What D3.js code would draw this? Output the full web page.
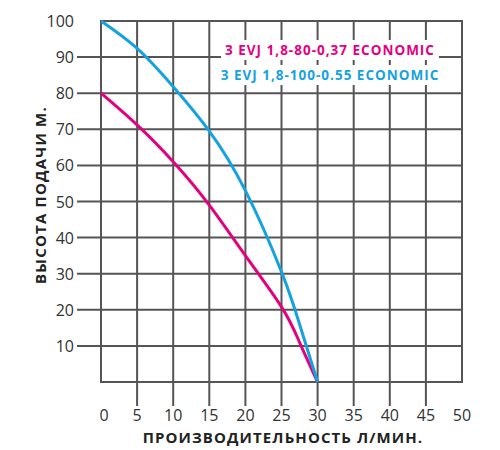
<!DOCTYPE html>
<html>
<head>
<meta charset="utf-8">
<script src="https://cdn.jsdelivr.net/npm/d3@7"></script>
<style>
  body { margin: 0; background: #fff; }
  svg { display: block; }
</style>
</head>
<body>
<svg width="500" height="450"></svg>
<script>
'use strict';

// flow, l/min
const flow = [0, 5, 10, 15, 20, 25, 27.5, 30]
// head, m
const head80 = [80, 71.2, 61, 49, 35, 20.8, 11, 0]
const head100 = [100, 92.4, 81.8, 69.5, 53, 30.5, 16, 0]

const seriesNames = ['3 EVJ 1,8-80-0,37 ECONOMIC', '3 EVJ 1,8-100-0.55 ECONOMIC']
const xTicks = [0, 5, 10, 15, 20, 25, 30, 35, 40, 45, 50]
const yTicks = [0, 10, 20, 30, 40, 50, 60, 70, 80, 90, 100]
const xTitle = 'ПРОИЗВОДИТЕЛЬНОСТЬ Л/МИН.'
const yTitle = 'ВЫСОТА ПОДАЧИ М.'

const colors = ['#e5007d', '#14a3e0']
const gridColor = '#555'
const svg = d3.select('svg')
const font = "'Open Sans', sans-serif"

const x = d3.scaleLinear().domain([0, 50]).range([101, 462])
const y = d3.scaleLinear().domain([0, 100]).range([382, 21])
const ext = 24

// grid
const grid = svg.append('g').attr('stroke', gridColor).attr('stroke-width', 2)
grid.selectAll('line.v')
  .data(xTicks)
  .enter().append('line').classed('v', true)
  .attr('x1', (d) => x(d)).attr('x2', (d) => x(d))
  .attr('y1', y(100) - 1)
  .attr('y2', (d) => (d > 0 && d < 50) ? y(0) + ext : y(0) + 1)
grid.selectAll('line.h')
  .data(yTicks)
  .enter().append('line').classed('h', true)
  .attr('y1', (d) => y(d)).attr('y2', (d) => y(d))
  .attr('x1', (d) => (d > 0 && d < 100) ? x(0) - ext : x(0) - 1)
  .attr('x2', x(50) + 1)

// tick labels
svg.append('g').selectAll('text')
  .data(xTicks)
  .enter().append('text')
  .attr('x', (d) => x(d) + (d === 0 ? 3 : 0))
  .attr('y', y(0) + 39)
  .attr('text-anchor', 'middle')
  .style('font', '16px ' + font)
  .style('fill', '#333')
  .text((d) => d)

svg.append('g').selectAll('text')
  .data(yTicks.filter((d) => d > 0))
  .enter().append('text')
  .attr('x', x(0) - ext - 3)
  .attr('y', (d) => y(d) + 6)
  .attr('text-anchor', 'end')
  .style('font', '16px ' + font)
  .style('fill', '#333')
  .text((d) => d)

// axis titles
svg.append('text')
  .attr('x', 283).attr('y', 443)
  .attr('text-anchor', 'middle')
  .style('font', 'bold 15px ' + font)
  .style('letter-spacing', '1.1px')
  .style('fill', '#222')
  .text(xTitle)

svg.append('text')
  .attr('transform', 'translate(46,195) rotate(-90)')
  .attr('text-anchor', 'middle')
  .style('font', 'bold 15px ' + font)
  .style('letter-spacing', '1.2px')
  .style('fill', '#222')
  .text(yTitle)

// curves
const line = d3.line()
  .x((d) => x(d[0]))
  .y((d) => y(d[1]))
  .curve(d3.curveNatural)

;[head80, head100].forEach((h, i) => {
  svg.append('path')
    .attr('d', line(flow.map((f, j) => [f, h[j]])))
    .attr('fill', 'none')
    .attr('stroke', colors[i])
    .attr('stroke-width', 3)
})

// legend
const legend = svg.append('g')
seriesNames.forEach((name, i) => {
  const t = legend.append('text')
    .attr('x', 330).attr('y', 55 + i * 25)
    .attr('text-anchor', 'middle')
    .style('font', 'bold 13.5px ' + font)
    .style('letter-spacing', '1px')
    .style('fill', colors[i])
    .text(name)
  const b = t.node().getBBox()
  legend.insert('rect', 'text')
    .attr('x', b.x - 4).attr('y', b.y - 1)
    .attr('width', b.width + 8).attr('height', b.height + 2)
    .attr('fill', '#fff')
})
</script>
</body>
</html>
